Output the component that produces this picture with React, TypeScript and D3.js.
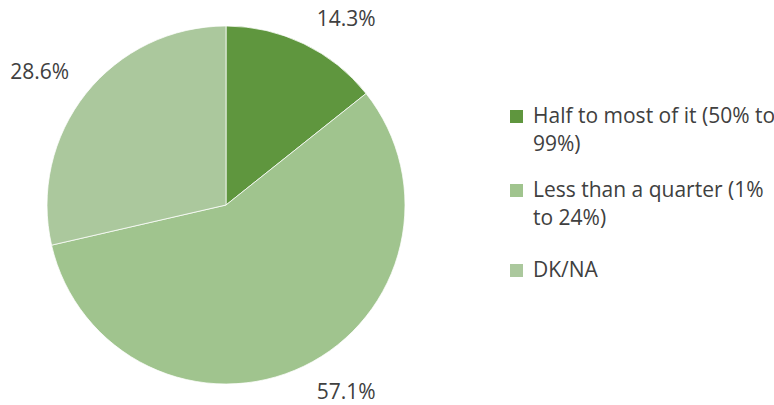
import React, { useEffect, useRef } from "react";
import * as d3 from "d3";

const categories = ["Half to most of it (50% to 99%)", "Less than a quarter (1% to 24%)", "DK/NA"];
const values = [14.3, 57.1, 28.6];
const legendLines = [["Half to most of it (50% to", "99%)"], ["Less than a quarter (1%", "to 24%)"], ["DK/NA"]];
const colors = ["#5F963E", "#A0C48E", "#ABC89D"];

const W = 774;
const H = 405;
const FONT = "'Open Sans', sans-serif";
const FS = 21;

export default function App() {
  const ref = useRef<SVGSVGElement>(null);
  useEffect(() => {
    const svg = d3.select(ref.current);
    svg.selectAll("*").remove();
    const cx = 226, cy = 205, r = 179;
    const pie = d3.pie<number>().sort(null).value((d) => d);
    const arcs = pie(values);
    const arc = d3.arc<d3.PieArcDatum<number>>().innerRadius(0).outerRadius(r);
    const g = svg.append("g").attr("transform", `translate(${cx},${cy})`);
    g.selectAll("path")
      .data(arcs)
      .join("path")
      .attr("d", arc as any)
      .attr("fill", (_, i) => colors[i])
      .attr("stroke", "#ffffff")
      .attr("stroke-width", 0.75);

    const labelR = 190;
    arcs.forEach((a, i) => {
      const mid = (a.startAngle + a.endAngle) / 2;
      const s = Math.sin(mid), c = Math.cos(mid);
      const t = g
        .append("text")
        .attr("font-family", FONT)
        .attr("font-size", FS)
        .attr("fill", "#404040")
        .attr("text-anchor", "middle")
        .text(`${values[i].toFixed(1)}%`);
      const w = 58;
      const h = 18;
      const x = labelR * s + 0.65 * w * Math.sign(s);
      const y = -labelR * c - 0.85 * h * Math.sign(c);
      t.attr("x", x).attr("y", y + 7.5);
    });

    const legend = svg.append("g");
    const baselines = [123, 197, 277];
    const lineH = 28;
    legendLines.forEach((lines, i) => {
      const by = baselines[i];
      legend
        .append("rect")
        .attr("x", 510)
        .attr("y", by - 13)
        .attr("width", 13)
        .attr("height", 13)
        .attr("fill", colors[i]);
      lines.forEach((ln, j) => {
        legend
          .append("text")
          .attr("x", 533)
          .attr("y", by + j * lineH)
          .attr("font-family", FONT)
          .attr("font-size", FS)
          .attr("fill", "#404040")
          .text(ln);
      });
    });
  }, []);
  return (
    <svg
      ref={ref}
      width={W}
      height={H}
      style={{ position: "fixed", left: 0, top: 0, background: "#ffffff" }}
    >
      <title>{categories.join(", ")}</title>
    </svg>
  );
}
